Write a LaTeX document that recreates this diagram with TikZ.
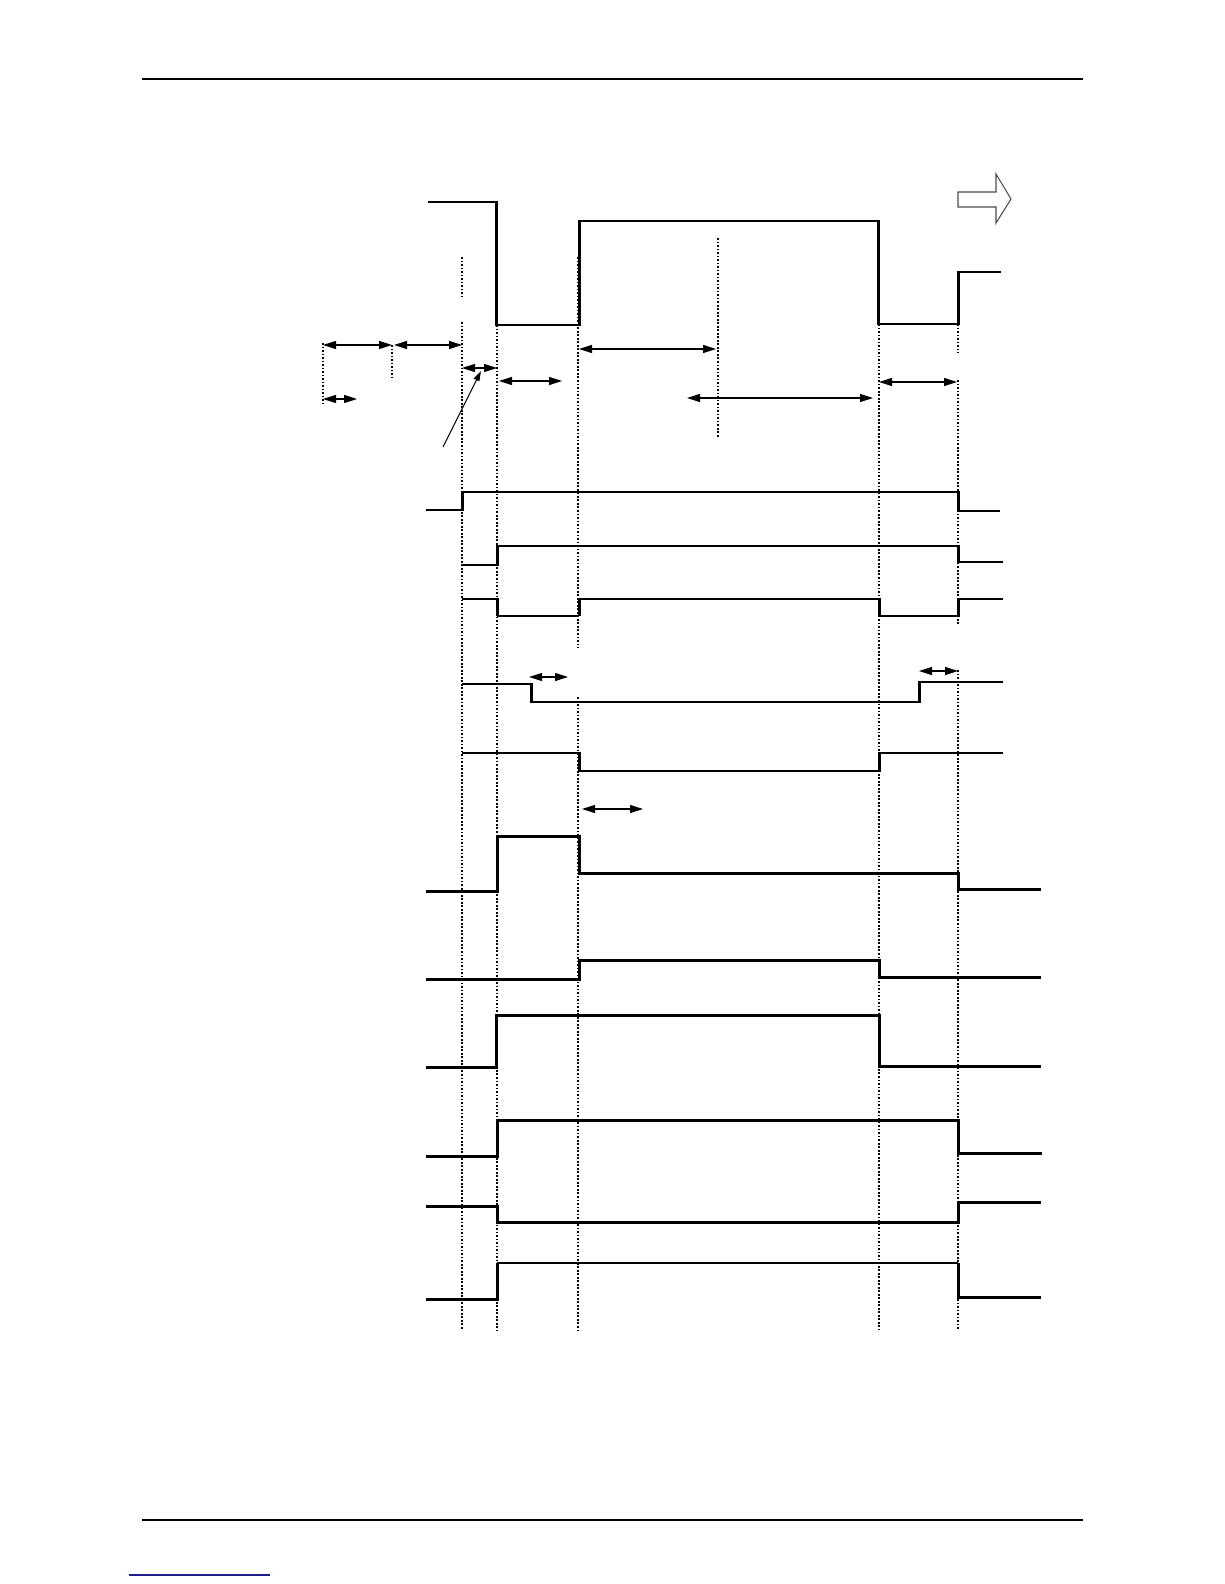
\documentclass[tikz,border=0pt]{standalone}
\usepackage{tikz}
\usetikzlibrary{arrows.meta}

\begin{document}
\begin{tikzpicture}[x=0.02cm, y=-0.02cm,
    wave/.style={line width=1.7pt},
    thinwave/.style={line width=0.8pt},
    guide/.style={line width=0.7pt, dash pattern=on 1pt off 1pt},
    dimarrow/.style={line width=0.6pt, {Triangle[length=0.26cm,width=0.16cm]}-{Triangle[length=0.26cm,width=0.16cm]}},
    pagerule/.style={line width=0.9pt}]
	\useasboundingbox (0,0) rectangle (1224,1584);

	% Righe di pagina
	\draw[pagerule] (142,79) -- (1083,79);
	\draw[pagerule] (142,1520) -- (1083,1520);
	\draw[line width=0.7pt, color={rgb,255:red,30;green,30;blue,140}] (129,1575) -- (270,1575);

	% Linee guida tratteggiate
	\draw[guide] (462,257) -- (462,299);
	\draw[guide] (462,322) -- (462,1330);
	\draw[guide] (497,325) -- (497,1330);
	\draw[guide] (578,257) -- (578,648);
	\draw[guide] (578,697) -- (578,1330);
	\draw[guide] (718,238) -- (718,438);
	\draw[guide] (879,324) -- (879,1330);
	\draw[guide] (958,324) -- (958,353);
	\draw[guide] (958,380) -- (958,625);
	\draw[guide] (958,670) -- (958,1330);
	\draw[guide] (323,343) -- (323,405);
	\draw[guide] (392,345) -- (392,377);

	% Forma d'onda principale
	\draw[wave] (428,202) -- (496,202) -- (496,325) -- (579,325) -- (579,221) -- (878,221) -- (878,324) -- (958,324) -- (958,272) -- (1001,272);

	% Freccia di direzione
	\draw[gray!60!black, line width=0.6pt] (958,192) -- (996,192) -- (996,174) -- (1011,199) -- (996,223) -- (996,207) -- (958,207) -- cycle;

	% Quote temporali
	\draw[dimarrow] (323,345) -- (392,345);
	\draw[dimarrow] (394,345) -- (462,345);
	\draw[dimarrow] (323,399) -- (357,399);
	\draw[dimarrow] (462,368) -- (497,368);
	\draw[dimarrow] (499,381) -- (562,381);
	\draw[dimarrow] (579,349) -- (716,349);
	\draw[dimarrow] (687,398) -- (873,398);
	\draw[dimarrow] (879,382) -- (957,382);
	\draw[dimarrow] (529,677) -- (568,677);
	\draw[dimarrow] (919,671) -- (958,671);
	\draw[dimarrow] (582,809) -- (643,809);
	\draw[line width=0.6pt, -{Triangle[length=0.2cm,width=0.12cm]}] (443,447) -- (481,371);

	% Segnali
	\draw[wave] (426,510) -- (462,510) -- (462,492) -- (958,492) -- (958,511) -- (1000,511);
	\draw[wave] (462,565) -- (497,565) -- (497,546) -- (958,546) -- (958,562) -- (1003,562);
	\draw[wave] (462,599) -- (497,599) -- (497,616);
	\draw[thinwave] (497,616) -- (579,616);
	\draw[wave] (579,616) -- (579,599) -- (879,599) -- (879,616) -- (958,616) -- (958,599) -- (1003,599);
	\draw[wave] (462,684) -- (531,684) -- (531,702) -- (919,702) -- (919,682) -- (1003,682);
	\draw[wave] (462,753) -- (579,753) -- (579,771) -- (879,771) -- (879,753) -- (1003,753);
	\draw[wave] (426,891) -- (497,891) -- (497,836) -- (579,836) -- (579,873) -- (958,873) -- (958,889) -- (1041,889);
	\draw[wave] (426,979) -- (579,979) -- (579,960) -- (879,960) -- (879,977) -- (1041,977);
	\draw[wave] (426,1067) -- (496,1067) -- (496,1015) -- (879,1015) -- (879,1066) -- (1041,1066);
	\draw[wave] (426,1156) -- (497,1156) -- (497,1120) -- (958,1120) -- (958,1153) -- (1042,1153);
	\draw[wave] (426,1206) -- (497,1206) -- (497,1222) -- (958,1222) -- (958,1202) -- (1041,1202);
	\draw[wave] (426,1299) -- (497,1299) -- (497,1263);
	\draw[thinwave] (497,1263) -- (958,1263);
	\draw[wave] (958,1263) -- (958,1297) -- (1041,1297);
\end{tikzpicture}
\end{document}
